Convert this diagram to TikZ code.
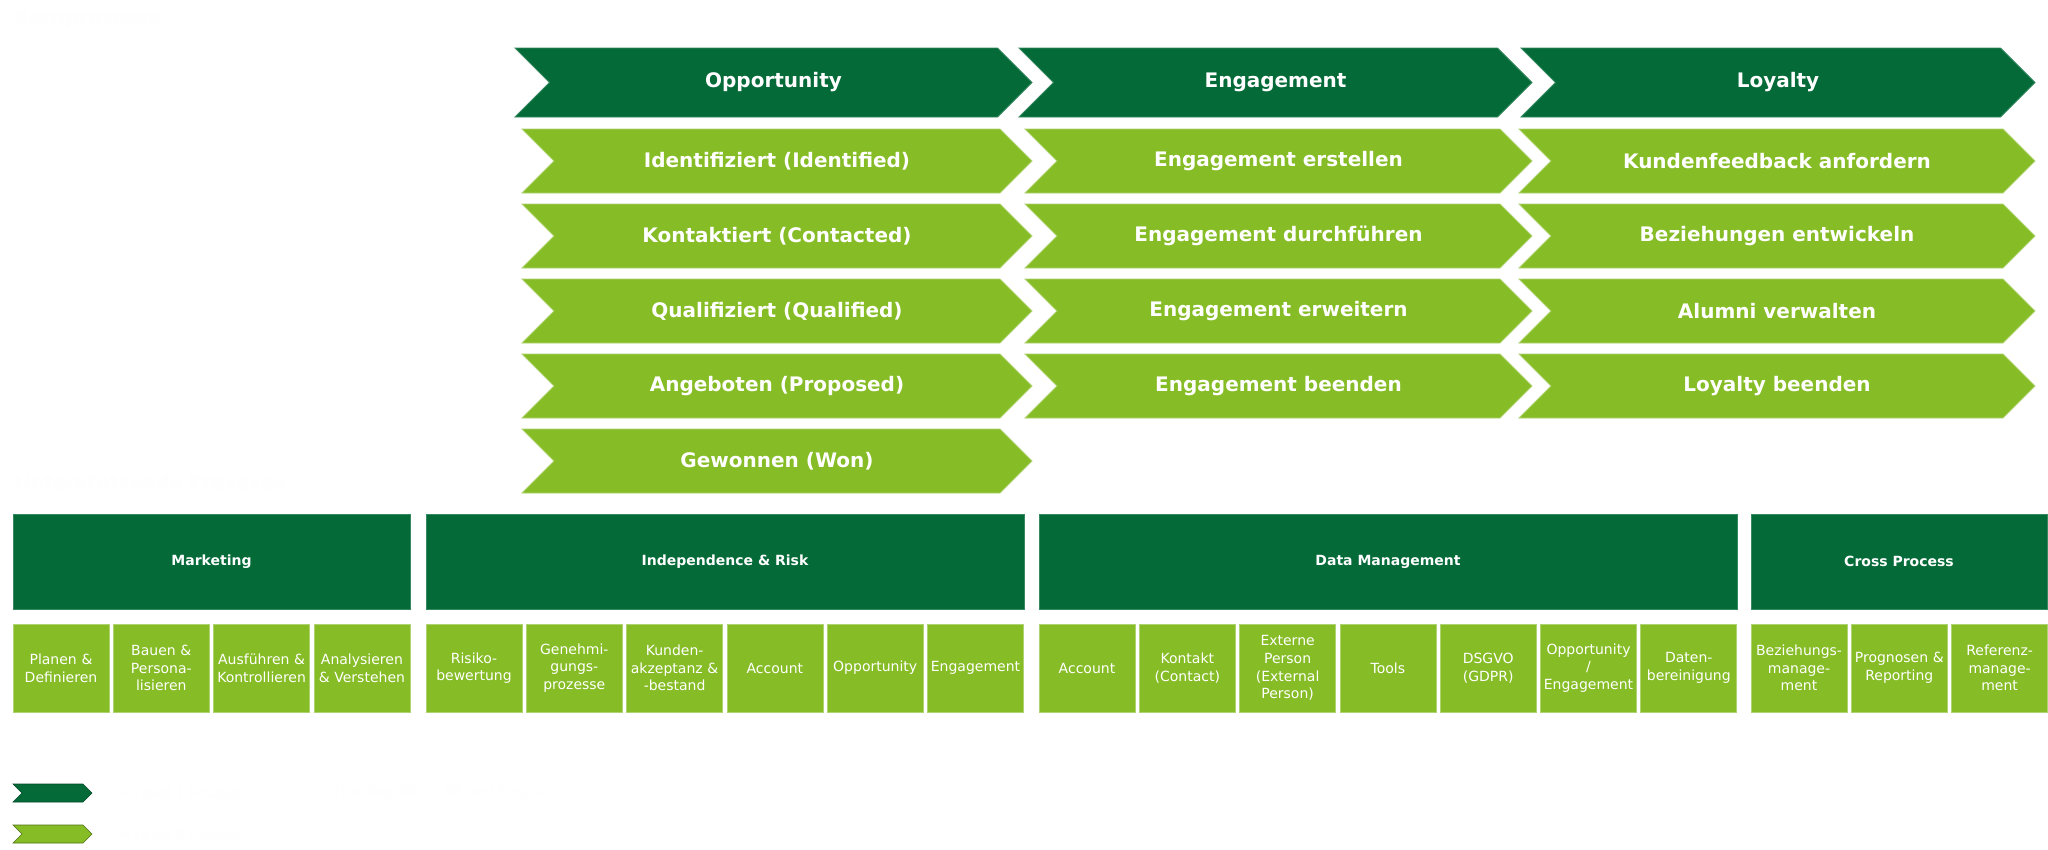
\documentclass[tikz,border=0pt]{standalone}
\usepackage{fontspec}
\setmainfont{DejaVu Sans}

\definecolor{dkgreen}{RGB}{4,106,56}
\definecolor{ltgreen}{RGB}{134,188,37}
\definecolor{pale}{RGB}{254,254,254}

\tikzset{
  lvltext/.style={text=white, font=\fontsize{20}{24}\selectfont\bfseries, inner sep=0pt},
  hdrbox/.style={fill=dkgreen, draw=dkgreen!80!white, line width=0.8pt, anchor=north west,
    minimum height=95pt, inner sep=0pt, outer sep=0pt, text=white,
    font=\fontsize{14}{17}\selectfont\bfseries},
  subbox/.style={fill=ltgreen, draw=ltgreen!65!white, line width=0.8pt, anchor=north west,
    minimum height=88pt, text width=94pt, inner sep=1pt, outer sep=0pt, align=center,
    text=white, font=\fontsize{14}{17.7}\selectfont},
  dkshape/.style={fill=dkgreen, draw=dkgreen!80!white, line width=0.8pt},
  ltshape/.style={fill=ltgreen, draw=ltgreen!65!white, line width=0.8pt},
  dkkey/.style={fill=dkgreen, draw=dkgreen!70!black, line width=0.6pt},
  ltkey/.style={fill=ltgreen, draw=ltgreen!60!black, line width=0.6pt},
  paletext/.style={text=pale, inner sep=0pt, anchor=west},
}

% chevron: #1 name, #2 style, #3 left x, #4 top y, #5 tip x, #6 height, #7 label
\newcommand{\procarrow}[7]{%
  \pgfmathsetmacro{\halfh}{#6/2}%
  \path[#2] (#3,#4) -- ({#5-\halfh},#4) -- (#5,{#4+\halfh}) -- ({#5-\halfh},{#4+#6})
    -- (#3,{#4+#6}) -- ({#3+\halfh},{#4+\halfh}) -- cycle;
  \node[lvltext] (#1) at ({(#3+#5)/2},{#4+\halfh}) {#7};
}

\begin{document}
\begin{tikzpicture}[x=1pt,y=-1pt]
  \fill[white] (0,0) rectangle (2048,849);
  \useasboundingbox (0,0) rectangle (2048,849);

  % section titles
  \node[paletext, font=\fontsize{19}{23}\selectfont\bfseries] (core) at (15,20) {Kernprozesse};
  \node[paletext, font=\fontsize{19}{23}\selectfont\bfseries] (support) at (15,482) {Unterstützende Prozesse};

  % level 1 core processes
  \procarrow{opp}{dkshape}{515}{48}{1032}{69}{Opportunity}
  \procarrow{eng}{dkshape}{1019}{48}{1532}{69}{Engagement}
  \procarrow{loy}{dkshape}{1521}{48}{2035}{69}{Loyalty}

  % level 2 core processes
  \procarrow{opp1}{ltshape}{522}{129}{1032}{64}{Identifiziert (Identified)}
  \procarrow{opp2}{ltshape}{522}{204}{1032}{64}{Kontaktiert (Contacted)}
  \procarrow{opp3}{ltshape}{522}{279}{1032}{64}{Qualifiziert (Qualified)}
  \procarrow{opp4}{ltshape}{522}{354}{1032}{64}{Angeboten (Proposed)}
  \procarrow{opp5}{ltshape}{522}{429}{1032}{64}{Gewonnen (Won)}

  \procarrow{eng1}{ltshape}{1025}{129}{1532}{64}{Engagement erstellen}
  \procarrow{eng2}{ltshape}{1025}{204}{1532}{64}{Engagement durchführen}
  \procarrow{eng3}{ltshape}{1025}{279}{1532}{64}{Engagement erweitern}
  \procarrow{eng4}{ltshape}{1025}{354}{1532}{64}{Engagement beenden}

  \procarrow{loy1}{ltshape}{1519}{129}{2035}{64}{Kundenfeedback anfordern}
  \procarrow{loy2}{ltshape}{1519}{204}{2035}{64}{Beziehungen entwickeln}
  \procarrow{loy3}{ltshape}{1519}{279}{2035}{64}{Alumni verwalten}
  \procarrow{loy4}{ltshape}{1519}{354}{2035}{64}{Loyalty beenden}

  % supporting processes: level 1
  \node[hdrbox, minimum width=397pt] (mkt) at (13,514) {Marketing};
  \node[hdrbox, minimum width=598pt] (ir)  at (426,514) {Independence \& Risk};
  \node[hdrbox, minimum width=698pt] (dm)  at (1039,514) {Data Management};
  \node[hdrbox, minimum width=296pt] (cp)  at (1751,514) {Cross Process};

  % supporting processes: level 2
  \foreach \t [count=\i from 0] in {{Planen \&\\Definieren}, {Bauen \&\\Persona-\\lisieren},
      {Ausführen \&\\Kontrollieren}, {Analysieren\\\& Verstehen}}
    \node[subbox] (mkt-\i) at ({13+\i*100.3},624) {\t};

  \foreach \t [count=\i from 0] in {{Risiko-\\bewertung}, {Genehmi-\\gungs-\\prozesse},
      {Kunden-\\akzeptanz \&\\-bestand}, {Account}, {Opportunity}, {Engagement}}
    \node[subbox] (ir-\i) at ({426+\i*100.3},624) {\t};

  \foreach \t [count=\i from 0] in {{Account}, {Kontakt\\(Contact)}, {Externe\\Person\\(External\\Person)},
      {Tools}, {DSGVO\\(GDPR)}, {Opportunity\\/\\Engagement}, {Daten-\\bereinigung}}
    \node[subbox] (dm-\i) at ({1039+\i*100.3},624) {\t};

  \foreach \t [count=\i from 0] in {{Beziehungs-\\manage-\\ment}, {Prognosen \&\\Reporting},
      {Referenz-\\manage-\\ment}}
    \node[subbox] (cp-\i) at ({1751+\i*100.3},624) {\t};

  % legend
  \procarrow{key1}{dkkey}{13}{784}{92}{18}{}
  \procarrow{key2}{ltkey}{13}{825}{92}{18}{}
  \node[paletext, font=\fontsize{14}{17}\selectfont] (key1txt) at (118,793) {= Level 1 Prozess};
  \node[paletext, font=\fontsize{14}{17}\selectfont] (keybrk) at (335,793) {() = Begriffe in DE und Englisch};
  \node[paletext, font=\fontsize{14}{17}\selectfont] (key2txt) at (118,834) {= Level 2 Prozess};
\end{tikzpicture}
\end{document}
